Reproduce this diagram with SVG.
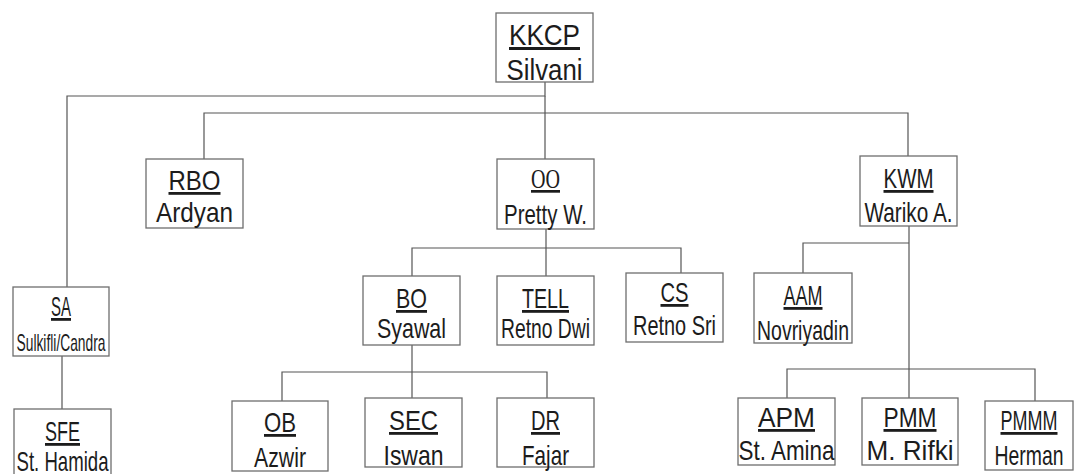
<svg xmlns="http://www.w3.org/2000/svg" width="1075" height="474" viewBox="0 0 1075 474">
<style>
  .box { fill: #ffffff; stroke: #6e6e6e; stroke-width: 1.3; }
  .conn { fill: none; stroke: #555555; stroke-width: 1.2; }
  text { font-family: "Liberation Sans", Arial, sans-serif; fill: #1c1c1c; text-anchor: middle; }
  .code { font-size: 28px; text-decoration: underline; }
  .name { font-size: 28px; }
  .big { font-size: 30px; }
  .small { font-size: 24px; }
  .serif { font-family: "Liberation Serif", "Times New Roman", serif; font-size: 27px; text-decoration: underline; }
</style>
<rect width="1075" height="474" fill="#ffffff"/>
<g id="connectors">
  <path class="conn" d="M545,82 V96 H67 V287"/>
  <path class="conn" d="M545,96 V159"/>
  <path class="conn" d="M204,159 V113 H908 V156"/>
  <path class="conn" d="M546,229 V276"/>
  <path class="conn" d="M412,276 V248 H681 V273"/>
  <path class="conn" d="M412,345 V398"/>
  <path class="conn" d="M282,401 V372 H547 V398"/>
  <path class="conn" d="M909,226 V398"/>
  <path class="conn" d="M803,273 V243 H909"/>
  <path class="conn" d="M787,398 V369 H1035 V401"/>
  <path class="conn" d="M62,356 V409"/>
</g>
<g id="node-kkcp">
  <rect class="box" x="496" y="13" width="97" height="69"/>
  <text class="code big" x="544.5" y="45" textLength="71" lengthAdjust="spacingAndGlyphs">KKCP</text>
  <text class="name big" x="544.5" y="80" textLength="76" lengthAdjust="spacingAndGlyphs">Silvani</text>
</g>
<g id="node-rbo">
  <rect class="box" x="146" y="159" width="97" height="69"/>
  <text class="code" x="194.5" y="190" textLength="52" lengthAdjust="spacingAndGlyphs">RBO</text>
  <text class="name" x="194.5" y="222" textLength="77" lengthAdjust="spacingAndGlyphs">Ardyan</text>
</g>
<g id="node-oo">
  <rect class="box" x="497" y="159" width="97" height="70"/>
  <text class="serif" x="545.5" y="188" textLength="29" lengthAdjust="spacingAndGlyphs">OO</text>
  <text class="name" x="545.5" y="224" textLength="83" lengthAdjust="spacingAndGlyphs">Pretty W.</text>
</g>
<g id="node-kwm">
  <rect class="box" x="860" y="156" width="97" height="70"/>
  <text class="code" x="908.5" y="188" textLength="50" lengthAdjust="spacingAndGlyphs">KWM</text>
  <text class="name" x="908.5" y="222" textLength="88" lengthAdjust="spacingAndGlyphs">Wariko A.</text>
</g>
<g id="node-sa">
  <rect class="box" x="13" y="287" width="96" height="69"/>
  <text class="code" x="61" y="316" textLength="20" lengthAdjust="spacingAndGlyphs">SA</text>
  <text class="name small" x="61" y="351" textLength="89" lengthAdjust="spacingAndGlyphs">Sulkifli/Candra</text>
</g>
<g id="node-sfe">
  <rect class="box" x="14" y="409" width="97" height="70"/>
  <text class="code" x="62.5" y="441" textLength="35" lengthAdjust="spacingAndGlyphs">SFE</text>
  <text class="name" x="62.5" y="471" textLength="92" lengthAdjust="spacingAndGlyphs">St. Hamida</text>
</g>
<g id="node-bo">
  <rect class="box" x="363" y="276" width="97" height="69"/>
  <text class="code" x="411.5" y="308" textLength="31" lengthAdjust="spacingAndGlyphs">BO</text>
  <text class="name" x="411.5" y="338" textLength="69" lengthAdjust="spacingAndGlyphs">Syawal</text>
</g>
<g id="node-tell">
  <rect class="box" x="497" y="276" width="97" height="69"/>
  <text class="code" x="545.5" y="308" textLength="47" lengthAdjust="spacingAndGlyphs">TELL</text>
  <text class="name" x="545.5" y="338" textLength="89" lengthAdjust="spacingAndGlyphs">Retno Dwi</text>
</g>
<g id="node-cs">
  <rect class="box" x="626" y="273" width="97" height="69"/>
  <text class="code" x="674.5" y="302" textLength="28" lengthAdjust="spacingAndGlyphs">CS</text>
  <text class="name" x="674.5" y="335" textLength="83" lengthAdjust="spacingAndGlyphs">Retno Sri</text>
</g>
<g id="node-aam">
  <rect class="box" x="754" y="273" width="98" height="70"/>
  <text class="code" x="803" y="305" textLength="39" lengthAdjust="spacingAndGlyphs">AAM</text>
  <text class="name" x="803" y="340" textLength="92" lengthAdjust="spacingAndGlyphs">Novriyadin</text>
</g>
<g id="node-ob">
  <rect class="box" x="232" y="401" width="96" height="70"/>
  <text class="code" x="280" y="432" textLength="32" lengthAdjust="spacingAndGlyphs">OB</text>
  <text class="name" x="280" y="467" textLength="52" lengthAdjust="spacingAndGlyphs">Azwir</text>
</g>
<g id="node-sec">
  <rect class="box" x="365" y="398" width="97" height="69"/>
  <text class="code" x="413.5" y="430" textLength="49" lengthAdjust="spacingAndGlyphs">SEC</text>
  <text class="name" x="413.5" y="465" textLength="60" lengthAdjust="spacingAndGlyphs">Iswan</text>
</g>
<g id="node-dr">
  <rect class="box" x="497" y="398" width="97" height="69"/>
  <text class="code" x="545.5" y="430" textLength="29" lengthAdjust="spacingAndGlyphs">DR</text>
  <text class="name" x="545.5" y="465" textLength="47" lengthAdjust="spacingAndGlyphs">Fajar</text>
</g>
<g id="node-apm">
  <rect class="box" x="738" y="398" width="97" height="67"/>
  <text class="code" x="786.5" y="427" textLength="57" lengthAdjust="spacingAndGlyphs">APM</text>
  <text class="name" x="786.5" y="460" textLength="96" lengthAdjust="spacingAndGlyphs">St. Amina</text>
</g>
<g id="node-pmm">
  <rect class="box" x="862" y="398" width="96" height="67"/>
  <text class="code" x="910" y="427" textLength="53" lengthAdjust="spacingAndGlyphs">PMM</text>
  <text class="name" x="910" y="460" textLength="87" lengthAdjust="spacingAndGlyphs">M. Rifki</text>
</g>
<g id="node-pmmm">
  <rect class="box" x="985" y="401" width="88" height="69"/>
  <text class="code" x="1029" y="430" textLength="57" lengthAdjust="spacingAndGlyphs">PMMM</text>
  <text class="name" x="1029" y="465" textLength="69" lengthAdjust="spacingAndGlyphs">Herman</text>
</g>
</svg>
